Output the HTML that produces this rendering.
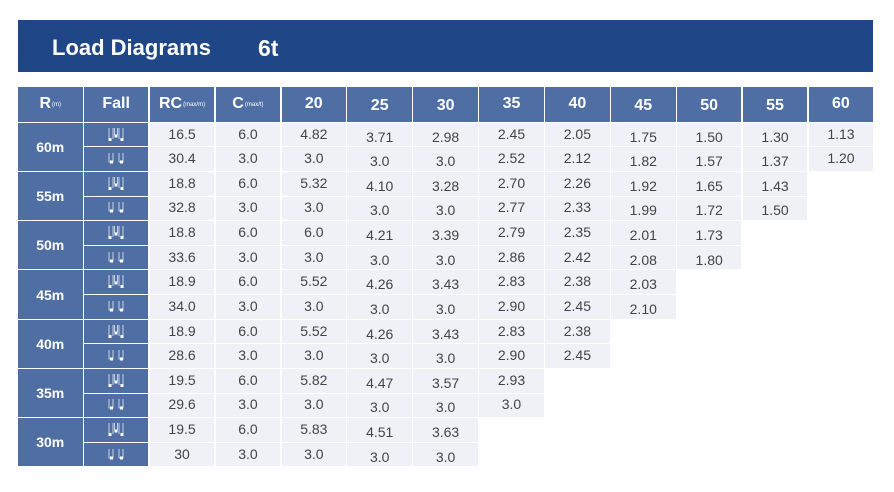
<!DOCTYPE html>
<html>
<head>
<meta charset="utf-8">
<style>
*{box-sizing:border-box}
html,body{margin:0;padding:0}
body{width:894px;height:492px;background:#fff;position:relative;overflow:hidden;font-family:"Liberation Sans",sans-serif}
.bar{position:absolute;left:18px;top:20px;width:855px;height:52px;background:#1f4687}
.t{position:absolute;top:37px;color:#fff;font-weight:bold;font-size:22px;line-height:22px;white-space:nowrap}
.g{position:absolute;left:18px;top:86.7px;display:grid;grid-template-columns:repeat(13,64.5px);grid-template-rows:35px repeat(14,23.64px);column-gap:1.4px;row-gap:1px}
.h{background:#4f6fa4;color:#fff;font-weight:bold;font-size:16px;display:flex;align-items:center;justify-content:center;white-space:nowrap}
.hl{padding-top:3px}
.sub{font-size:6px;font-weight:normal;margin-left:1px;position:relative;top:1px}
.r{grid-column:1;grid-row:span 2;background:#4f6fa4;color:#fff;font-weight:bold;font-size:14px;display:flex;align-items:center;justify-content:center}
.f{grid-column:2;background:#4f6fa4;display:flex;align-items:center;justify-content:center}
.d{background:#eff1f6;color:#444;font-size:14px;display:flex;align-items:center;justify-content:center;padding-bottom:2px;line-height:14px}
.l{padding-bottom:0;padding-top:4px}
svg{display:block}
</style>
</head>
<body>
<div class="bar"></div>
<div class="t" style="left:52px">Load Diagrams</div>
<div class="t" style="left:258px;font-size:23px">6t</div>

<div class="g">
<div class="h">R<span class="sub">(m)</span></div>
<div class="h">Fall</div>
<div class="h">RC<span class="sub">(max/m)</span></div>
<div class="h">C<span class="sub">(max/t)</span></div>
<div class="h">20</div>
<div class="h hl">25</div>
<div class="h hl">30</div>
<div class="h">35</div>
<div class="h">40</div>
<div class="h hl">45</div>
<div class="h hl">50</div>
<div class="h hl">55</div>
<div class="h">60</div>

<!-- 60m -->
<div class="r">60m</div>
<div class="f"><svg width="18" height="16" viewBox="0 0 18 16"><g stroke="#fff" stroke-width="0.8" opacity="0.85" fill="none"><path d="M2 1V12M6 1V12M12 1V12M16 1V12M7.5 1V8M10.5 1V8"/></g><g fill="#fff"><rect x="1.5" y="11" width="3" height="3"/><rect x="13.5" y="11" width="3" height="3"/><rect x="7.5" y="7.5" width="3" height="3"/></g></svg></div>
<div class="d">16.5</div><div class="d">6.0</div><div class="d">4.82</div><div class="d l">3.71</div><div class="d l">2.98</div><div class="d">2.45</div><div class="d">2.05</div><div class="d l">1.75</div><div class="d l">1.50</div><div class="d l">1.30</div><div class="d">1.13</div>
<div class="f"><svg width="18" height="12" viewBox="0 0 18 12"><g stroke="#fff" stroke-width="0.8" opacity="0.85" fill="none"><path d="M2 0V9H6V0M12 0V9H16V0"/></g><g fill="#fff"><rect x="3" y="7.5" width="3" height="3"/><rect x="13" y="7.5" width="3" height="3"/></g></svg></div>
<div class="d">30.4</div><div class="d">3.0</div><div class="d">3.0</div><div class="d l">3.0</div><div class="d l">3.0</div><div class="d">2.52</div><div class="d">2.12</div><div class="d l">1.82</div><div class="d l">1.57</div><div class="d l">1.37</div><div class="d">1.20</div>

<!-- 55m -->
<div class="r">55m</div>
<div class="f"><svg width="18" height="16" viewBox="0 0 18 16"><g stroke="#fff" stroke-width="0.8" opacity="0.85" fill="none"><path d="M2 1V12M6 1V12M12 1V12M16 1V12M7.5 1V8M10.5 1V8"/></g><g fill="#fff"><rect x="1.5" y="11" width="3" height="3"/><rect x="13.5" y="11" width="3" height="3"/><rect x="7.5" y="7.5" width="3" height="3"/></g></svg></div>
<div class="d">18.8</div><div class="d">6.0</div><div class="d">5.32</div><div class="d l">4.10</div><div class="d l">3.28</div><div class="d">2.70</div><div class="d">2.26</div><div class="d l">1.92</div><div class="d l">1.65</div><div class="d l">1.43</div>
<div class="f"><svg width="18" height="12" viewBox="0 0 18 12"><g stroke="#fff" stroke-width="0.8" opacity="0.85" fill="none"><path d="M2 0V9H6V0M12 0V9H16V0"/></g><g fill="#fff"><rect x="3" y="7.5" width="3" height="3"/><rect x="13" y="7.5" width="3" height="3"/></g></svg></div>
<div class="d">32.8</div><div class="d">3.0</div><div class="d">3.0</div><div class="d l">3.0</div><div class="d l">3.0</div><div class="d">2.77</div><div class="d">2.33</div><div class="d l">1.99</div><div class="d l">1.72</div><div class="d l">1.50</div>

<!-- 50m -->
<div class="r">50m</div>
<div class="f"><svg width="18" height="16" viewBox="0 0 18 16"><g stroke="#fff" stroke-width="0.8" opacity="0.85" fill="none"><path d="M2 1V12M6 1V12M12 1V12M16 1V12M7.5 1V8M10.5 1V8"/></g><g fill="#fff"><rect x="1.5" y="11" width="3" height="3"/><rect x="13.5" y="11" width="3" height="3"/><rect x="7.5" y="7.5" width="3" height="3"/></g></svg></div>
<div class="d">18.8</div><div class="d">6.0</div><div class="d">6.0</div><div class="d l">4.21</div><div class="d l">3.39</div><div class="d">2.79</div><div class="d">2.35</div><div class="d l">2.01</div><div class="d l">1.73</div>
<div class="f"><svg width="18" height="12" viewBox="0 0 18 12"><g stroke="#fff" stroke-width="0.8" opacity="0.85" fill="none"><path d="M2 0V9H6V0M12 0V9H16V0"/></g><g fill="#fff"><rect x="3" y="7.5" width="3" height="3"/><rect x="13" y="7.5" width="3" height="3"/></g></svg></div>
<div class="d">33.6</div><div class="d">3.0</div><div class="d">3.0</div><div class="d l">3.0</div><div class="d l">3.0</div><div class="d">2.86</div><div class="d">2.42</div><div class="d l">2.08</div><div class="d l">1.80</div>

<!-- 45m -->
<div class="r">45m</div>
<div class="f"><svg width="18" height="16" viewBox="0 0 18 16"><g stroke="#fff" stroke-width="0.8" opacity="0.85" fill="none"><path d="M2 1V12M6 1V12M12 1V12M16 1V12M7.5 1V8M10.5 1V8"/></g><g fill="#fff"><rect x="1.5" y="11" width="3" height="3"/><rect x="13.5" y="11" width="3" height="3"/><rect x="7.5" y="7.5" width="3" height="3"/></g></svg></div>
<div class="d">18.9</div><div class="d">6.0</div><div class="d">5.52</div><div class="d l">4.26</div><div class="d l">3.43</div><div class="d">2.83</div><div class="d">2.38</div><div class="d l">2.03</div>
<div class="f"><svg width="18" height="12" viewBox="0 0 18 12"><g stroke="#fff" stroke-width="0.8" opacity="0.85" fill="none"><path d="M2 0V9H6V0M12 0V9H16V0"/></g><g fill="#fff"><rect x="3" y="7.5" width="3" height="3"/><rect x="13" y="7.5" width="3" height="3"/></g></svg></div>
<div class="d">34.0</div><div class="d">3.0</div><div class="d">3.0</div><div class="d l">3.0</div><div class="d l">3.0</div><div class="d">2.90</div><div class="d">2.45</div><div class="d l">2.10</div>

<!-- 40m -->
<div class="r">40m</div>
<div class="f"><svg width="18" height="16" viewBox="0 0 18 16"><g stroke="#fff" stroke-width="0.8" opacity="0.85" fill="none"><path d="M2 1V12M6 1V12M12 1V12M16 1V12M7.5 1V8M10.5 1V8"/></g><g fill="#fff"><rect x="1.5" y="11" width="3" height="3"/><rect x="13.5" y="11" width="3" height="3"/><rect x="7.5" y="7.5" width="3" height="3"/></g></svg></div>
<div class="d">18.9</div><div class="d">6.0</div><div class="d">5.52</div><div class="d l">4.26</div><div class="d l">3.43</div><div class="d">2.83</div><div class="d">2.38</div>
<div class="f"><svg width="18" height="12" viewBox="0 0 18 12"><g stroke="#fff" stroke-width="0.8" opacity="0.85" fill="none"><path d="M2 0V9H6V0M12 0V9H16V0"/></g><g fill="#fff"><rect x="3" y="7.5" width="3" height="3"/><rect x="13" y="7.5" width="3" height="3"/></g></svg></div>
<div class="d">28.6</div><div class="d">3.0</div><div class="d">3.0</div><div class="d l">3.0</div><div class="d l">3.0</div><div class="d">2.90</div><div class="d">2.45</div>

<!-- 35m -->
<div class="r">35m</div>
<div class="f"><svg width="18" height="16" viewBox="0 0 18 16"><g stroke="#fff" stroke-width="0.8" opacity="0.85" fill="none"><path d="M2 1V12M6 1V12M12 1V12M16 1V12M7.5 1V8M10.5 1V8"/></g><g fill="#fff"><rect x="1.5" y="11" width="3" height="3"/><rect x="13.5" y="11" width="3" height="3"/><rect x="7.5" y="7.5" width="3" height="3"/></g></svg></div>
<div class="d">19.5</div><div class="d">6.0</div><div class="d">5.82</div><div class="d l">4.47</div><div class="d l">3.57</div><div class="d">2.93</div>
<div class="f"><svg width="18" height="12" viewBox="0 0 18 12"><g stroke="#fff" stroke-width="0.8" opacity="0.85" fill="none"><path d="M2 0V9H6V0M12 0V9H16V0"/></g><g fill="#fff"><rect x="3" y="7.5" width="3" height="3"/><rect x="13" y="7.5" width="3" height="3"/></g></svg></div>
<div class="d">29.6</div><div class="d">3.0</div><div class="d">3.0</div><div class="d l">3.0</div><div class="d l">3.0</div><div class="d">3.0</div>

<!-- 30m -->
<div class="r">30m</div>
<div class="f"><svg width="18" height="16" viewBox="0 0 18 16"><g stroke="#fff" stroke-width="0.8" opacity="0.85" fill="none"><path d="M2 1V12M6 1V12M12 1V12M16 1V12M7.5 1V8M10.5 1V8"/></g><g fill="#fff"><rect x="1.5" y="11" width="3" height="3"/><rect x="13.5" y="11" width="3" height="3"/><rect x="7.5" y="7.5" width="3" height="3"/></g></svg></div>
<div class="d">19.5</div><div class="d">6.0</div><div class="d">5.83</div><div class="d l">4.51</div><div class="d l">3.63</div>
<div class="f"><svg width="18" height="12" viewBox="0 0 18 12"><g stroke="#fff" stroke-width="0.8" opacity="0.85" fill="none"><path d="M2 0V9H6V0M12 0V9H16V0"/></g><g fill="#fff"><rect x="3" y="7.5" width="3" height="3"/><rect x="13" y="7.5" width="3" height="3"/></g></svg></div>
<div class="d">30</div><div class="d">3.0</div><div class="d">3.0</div><div class="d l">3.0</div><div class="d l">3.0</div>
</div>
</body>
</html>
